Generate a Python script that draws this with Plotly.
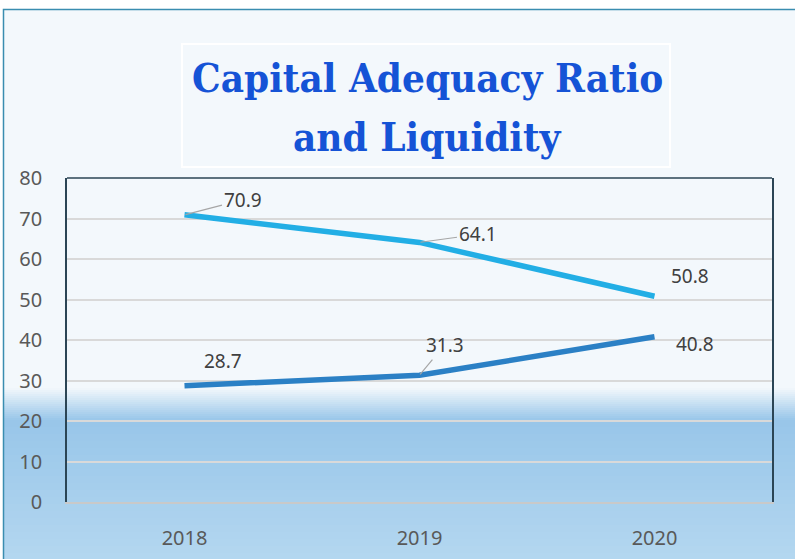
import plotly.graph_objects as go

# ---- data ----
years = ["2018", "2019", "2020"]
series_top = [70.9, 64.1, 50.8]      # light blue line
series_bottom = [28.7, 31.3, 40.8]   # darker blue line
y_ticks = [0, 10, 20, 30, 40, 50, 60, 70, 80]
title_lines = ["Capital Adequacy Ratio", "and Liquidity"]

W, H = 795, 559
L, R, T, B = 67, 23, 178, 57
PW, PH = W - L - R, H - T - B

def px(xp):
    return (xp - L) / PW

def py(yp):
    return (H - B - yp) / PH

def hexmix(c1, c2, t):
    a = [int(c1[i:i + 2], 16) for i in (1, 3, 5)]
    b = [int(c2[i:i + 2], 16) for i in (1, 3, 5)]
    return "#" + "".join(f"{round(a[k] + (b[k] - a[k]) * t):02x}" for k in range(3))

fig = go.Figure()

fig.add_trace(go.Scatter(
    x=years, y=series_top, mode="lines",
    line=dict(color="#22AEE5", width=5.5), showlegend=False, hoverinfo="skip"))
fig.add_trace(go.Scatter(
    x=years, y=series_bottom, mode="lines",
    line=dict(color="#2B80C5", width=5.5), showlegend=False, hoverinfo="skip"))

shapes = []
# background frame + gradient
light, blue, pale = "#F3F8FC", "#98C6E9", "#B4D7F0"
fx0, fx1 = px(3), px(796)
shapes.append(dict(type="rect", xref="paper", yref="paper", layer="below",
                   x0=fx0, x1=fx1, y0=py(388), y1=py(9), fillcolor=light, line_width=0))
n1 = 16
for i in range(n1):
    y0p = 388 + (420 - 388) * i / n1
    y1p = 388 + (420 - 388) * (i + 1) / n1
    shapes.append(dict(type="rect", xref="paper", yref="paper", layer="below",
                       x0=fx0, x1=fx1, y0=py(y1p), y1=py(y0p),
                       fillcolor=hexmix(light, blue, (i + 0.5) / n1), line_width=0))
n2 = 20
for i in range(n2):
    y0p = 420 + (560 - 420) * i / n2
    y1p = 420 + (560 - 420) * (i + 1) / n2
    shapes.append(dict(type="rect", xref="paper", yref="paper", layer="below",
                       x0=fx0, x1=fx1, y0=py(y1p), y1=py(y0p),
                       fillcolor=hexmix(blue, pale, (i + 0.5) / n2), line_width=0))
# frame border
shapes.append(dict(type="rect", xref="paper", yref="paper", layer="below",
                   x0=px(3.5), x1=px(799), y0=py(565), y1=py(9.5),
                   line=dict(color="#3A8DB0", width=1.5), fillcolor="rgba(0,0,0,0)"))
# title box
shapes.append(dict(type="rect", xref="paper", yref="paper", layer="below",
                   x0=px(182), x1=px(670), y0=py(167), y1=py(44),
                   line=dict(color="#FFFFFF", width=2), fillcolor="rgba(0,0,0,0)"))
# plot area top border
shapes.append(dict(type="line", xref="paper", yref="paper", layer="above",
                   x0=0, x1=1, y0=1, y1=1, line=dict(color="#2B4555", width=1.5)))

title_font = dict(family="DejaVu Serif Condensed, DejaVu Serif", size=40, color="#1553D6")
annotations = []
for line_text, mid in zip(title_lines, [78, 136]):
    annotations.append(dict(
        text="<b>" + line_text + "</b>", xref="paper", yref="paper",
        x=px(427), y=py(mid), xanchor="center", yanchor="middle", showarrow=False,
        font=title_font))

lab_font = dict(family="Noto Sans", size=19, color="#404040")
# (series, index, dx, dy, leader)
label_specs = [
    (series_top, 0, 58, -15, True),
    (series_top, 1, 58, -8, True),
    (series_top, 2, 35, -20, False),
    (series_bottom, 0, 38, -25, False),
    (series_bottom, 1, 25, -30, True),
    (series_bottom, 2, 40, 7, False),
]
for s, i, dx, dy, leader in label_specs:
    if leader:
        annotations.append(dict(x=i, y=s[i], xref="x", yref="y", text=f"{s[i]:.1f}",
                                showarrow=True, ax=dx, ay=dy, arrowhead=0, arrowwidth=1.2,
                                arrowcolor="#A6A6A6", standoff=1, font=lab_font))
    else:
        annotations.append(dict(x=i, y=s[i], xref="x", yref="y", text=f"{s[i]:.1f}",
                                showarrow=False, xshift=dx, yshift=-dy, font=lab_font))

fig.update_layout(
    width=W, height=H,
    margin=dict(l=L, r=R, t=T, b=B, pad=0),
    paper_bgcolor="#FFFFFF", plot_bgcolor="rgba(0,0,0,0)",
    shapes=shapes, annotations=annotations,
    font=dict(family="Noto Sans", size=20, color="#595959"),
    xaxis=dict(type="category", range=[-0.5, 2.5], showgrid=False, automargin=False,
               showline=True, linecolor="#C9C9C9", linewidth=2,
               ticks="", ticklabelstandoff=17, fixedrange=True),
    yaxis=dict(range=[0, 80], tickvals=y_ticks, showgrid=True, automargin=False,
               gridcolor="#D9D9D9", gridwidth=1.5, zeroline=False,
               showline=True, linecolor="#2B4555", linewidth=1.5, mirror=True,
               ticks="", ticklabelstandoff=19, fixedrange=True),
)

fig.write_html("out.html", post_script="document.body.style.margin='0';",
               config={"displayModeBar": False})
